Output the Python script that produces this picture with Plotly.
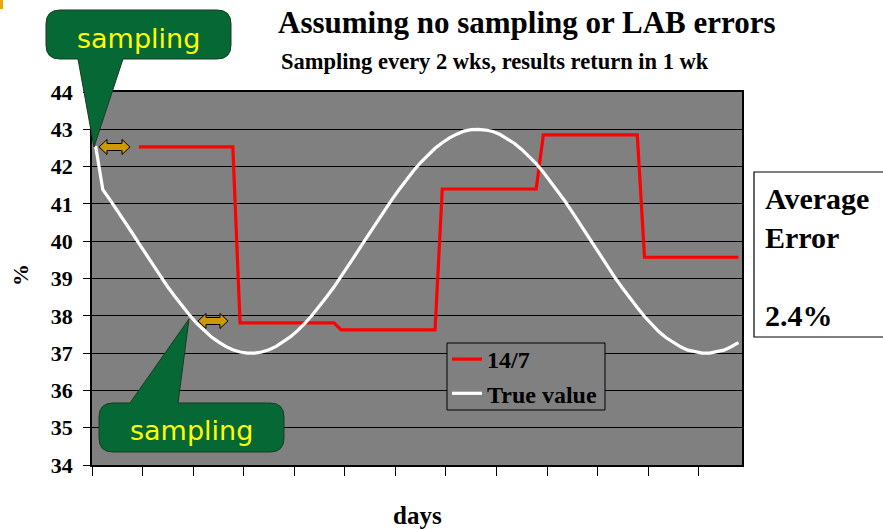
import plotly.graph_objects as go

# ---------------- data ----------------
days = list(range(1, 91))

true_value = [
    42.55, 41.38, 41.11, 40.83, 40.53, 40.24, 39.94, 39.64, 39.34, 39.05,
    38.77, 38.51, 38.25, 38.02, 37.80, 37.61, 37.44, 37.30, 37.18, 37.09,
    37.03, 37.00, 37.00, 37.03, 37.09, 37.18, 37.30, 37.44, 37.61, 37.80,
    38.02, 38.25, 38.51, 38.77, 39.05, 39.34, 39.64, 39.94, 40.24, 40.53,
    40.83, 41.11, 41.38, 41.64, 41.88, 42.11, 42.31, 42.49, 42.64, 42.77,
    42.87, 42.95, 42.99, 43.00, 42.98, 42.94, 42.86, 42.75, 42.62, 42.46,
    42.28, 42.08, 41.85, 41.60, 41.34, 41.07, 40.78, 40.48, 40.18, 39.89,
    39.59, 39.29, 39.00, 38.73, 38.46, 38.22, 37.98, 37.77, 37.57, 37.41,
    37.28, 37.17, 37.08, 37.03, 37.00, 37.00, 37.03, 37.08, 37.17, 37.28,
]

result_14_7 = [
    None, None, None, None, None, None, 42.53, 42.53, 42.53, 42.53,
    42.53, 42.53, 42.53, 42.53, 42.53, 42.53, 42.53, 42.53, 42.53, 42.53,
    37.81, 37.81, 37.81, 37.81, 37.81, 37.81, 37.81, 37.81, 37.81, 37.81,
    37.81, 37.81, 37.81, 37.81, 37.62, 37.62, 37.62, 37.62, 37.62, 37.62,
    37.62, 37.62, 37.62, 37.62, 37.62, 37.62, 37.62, 37.62, 41.40, 41.40,
    41.40, 41.40, 41.40, 41.40, 41.40, 41.40, 41.40, 41.40, 41.40, 41.40,
    41.40, 41.40, 42.85, 42.85, 42.85, 42.85, 42.85, 42.85, 42.85, 42.85,
    42.85, 42.85, 42.85, 42.85, 42.85, 42.85, 39.57, 39.57, 39.57, 39.57,
    39.57, 39.57, 39.57, 39.57, 39.57, 39.57, 39.57, 39.57, 39.57, 39.57,
]

y_ticks = [34, 35, 36, 37, 38, 39, 40, 41, 42, 43, 44]

title_text = "Assuming no sampling or LAB errors"
subtitle_text = "Sampling every 2 wks, results return in 1 wk"
error_text = "Average<br>Error<br><br>2.4%"

# ---------------- layout helpers ----------------
W, H = 883, 529
L, R, T, B = 92, 742, 92, 465
SERIF = "Liberation Serif"


def px(x):
    return (x - L) / (R - L)


def py(y):
    return (B - y) / (B - T)


def pth(cmds):
    out = []
    for c in cmds:
        op = c[0]
        if op == "Z":
            out.append("Z")
            continue
        pts = " ".join(f"{px(a):.5f},{py(b):.5f}" for a, b in c[1:])
        out.append(f"{op} {pts}")
    return " ".join(out)


def dbl_arrow(x0, x1, yc):
    hl, hh, sh = 8, 7.5, 3.5
    return pth([
        ("M", (x0, yc)), ("L", (x0 + hl, yc - hh)), ("L", (x0 + hl, yc - sh)),
        ("L", (x1 - hl, yc - sh)), ("L", (x1 - hl, yc - hh)), ("L", (x1, yc)),
        ("L", (x1 - hl, yc + hh)), ("L", (x1 - hl, yc + sh)), ("L", (x0 + hl, yc + sh)),
        ("L", (x0 + hl, yc + hh)), ("Z",),
    ])


GREEN = "#066835"
GOLD = "#CC9900"

callout_top = pth([
    ("M", (60, 10)), ("L", (217, 10)), ("Q", (231, 10), (231, 24)),
    ("L", (231, 45)), ("Q", (231, 59), (217, 59)), ("L", (123, 59)),
    ("L", (94, 147)), ("L", (78, 59)), ("L", (60, 59)),
    ("Q", (46, 59), (46, 45)), ("L", (46, 24)), ("Q", (46, 10), (60, 10)), ("Z",),
])
callout_bot = pth([
    ("M", (113, 403)), ("L", (130, 403)), ("L", (189, 319)), ("L", (178, 403)),
    ("L", (270, 403)), ("Q", (284, 403), (284, 417)), ("L", (284, 438)),
    ("Q", (284, 452), (270, 452)), ("L", (113, 452)), ("Q", (99, 452), (99, 438)),
    ("L", (99, 417)), ("Q", (99, 403), (113, 403)), ("Z",),
])

# ---------------- figure ----------------
fig = go.Figure()
fig.add_trace(go.Scatter(
    x=days, y=result_14_7, name="14/7", mode="lines",
    line=dict(color="#FF0000", width=3.2), connectgaps=False,
))
fig.add_trace(go.Scatter(
    x=days, y=true_value, name="True value", mode="lines",
    line=dict(color="#FFFFFF", width=3.2),
))

shapes = [
    dict(type="rect", xref="paper", yref="paper",
         x0=px(447), x1=px(605), y0=py(410), y1=py(343),
         fillcolor="#808080", line=dict(color="#000000", width=1), layer="above"),
    dict(type="path", path=callout_top, xref="paper", yref="paper",
         fillcolor=GREEN, line=dict(color="#1a3a20", width=1), layer="above"),
    dict(type="path", path=callout_bot, xref="paper", yref="paper",
         fillcolor=GREEN, line=dict(color="#1a3a20", width=1), layer="above"),
    dict(type="path", path=dbl_arrow(99, 130, 147), xref="paper", yref="paper",
         fillcolor=GOLD, line=dict(color="#000000", width=1), layer="above"),
    dict(type="path", path=dbl_arrow(198, 228, 321), xref="paper", yref="paper",
         fillcolor=GOLD, line=dict(color="#000000", width=1), layer="above"),
    dict(type="rect", xref="paper", yref="paper",
         x0=px(754), x1=px(892), y0=py(337), y1=py(172),
         fillcolor="#FFFFFF", line=dict(color="#000000", width=1.2), layer="above"),
    dict(type="rect", xref="paper", yref="paper",
         x0=px(0), x1=px(3), y0=py(9), y1=py(0),
         fillcolor="#E8A800", line=dict(width=0), layer="above"),
]

annotations = [
    dict(text=title_text, x=px(527), y=py(22), xref="paper", yref="paper",
         showarrow=False, xanchor="center", yanchor="middle",
         font=dict(family=SERIF, size=31, color="#000000", weight="bold")),
    dict(text=subtitle_text, x=px(495), y=py(62), xref="paper", yref="paper",
         showarrow=False, xanchor="center", yanchor="middle",
         font=dict(family=SERIF, size=22.5, color="#000000", weight="bold")),
    dict(text="%", x=px(20), y=py(275), xref="paper", yref="paper",
         showarrow=False, textangle=-90, xanchor="center", yanchor="middle",
         font=dict(family=SERIF, size=22, color="#000000", weight="bold")),
    dict(text="days", x=px(417), y=py(515), xref="paper", yref="paper",
         showarrow=False, xanchor="center", yanchor="middle",
         font=dict(family=SERIF, size=25, color="#000000", weight="bold")),
    dict(text="sampling", x=px(138), y=py(39), xref="paper", yref="paper",
         showarrow=False, xanchor="center", yanchor="middle",
         font=dict(family="DejaVu Sans", size=27, color="#FFFF00")),
    dict(text="sampling", x=px(191), y=py(430), xref="paper", yref="paper",
         showarrow=False, xanchor="center", yanchor="middle",
         font=dict(family="DejaVu Sans", size=27, color="#FFFF00")),
    dict(text=error_text, x=px(763), y=py(180), xref="paper", yref="paper",
         showarrow=False, xanchor="left", yanchor="top", align="left",
         font=dict(family=SERIF, size=30, color="#000000", weight="bold")),
]

fig.update_layout(
    width=W, height=H,
    margin=dict(l=L, r=W - R, t=T, b=H - B, pad=0),
    paper_bgcolor="#FFFFFF", plot_bgcolor="#808080",
    shapes=shapes, annotations=annotations,
    showlegend=True,
    legend=dict(
        x=px(447), y=py(337), xanchor="left", yanchor="top",
        bgcolor="rgba(0,0,0,0)", borderwidth=0,
        font=dict(family=SERIF, size=24, color="#000000", weight="bold"),
        tracegroupgap=0, itemwidth=30,
    ),
    xaxis=dict(
        range=[0.5, 90.5], tick0=0.5, dtick=7, tickmode="linear",
        showticklabels=False, ticks="outside", ticklen=9, tickcolor="#000000",
        showgrid=False, zeroline=False,
        showline=True, linecolor="#000000", linewidth=1.5, mirror=True,
    ),
    yaxis=dict(
        range=[34, 44], tickvals=y_ticks, ticktext=[str(v) for v in y_ticks],
        ticks="outside", ticklen=7, tickcolor="#000000", ticklabelstandoff=6,
        tickfont=dict(family=SERIF, size=22, color="#000000", weight="bold"),
        showgrid=True, gridcolor="#000000", gridwidth=1, zeroline=False,
        showline=True, linecolor="#000000", linewidth=1.5, mirror=True,
    ),
)

fig.write_html("out.html")
